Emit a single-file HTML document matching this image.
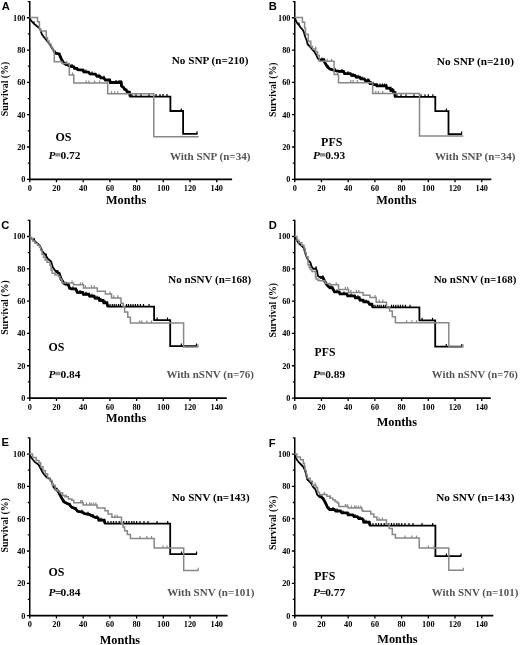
<!DOCTYPE html>
<html><head><meta charset="utf-8"><style>
html,body{margin:0;padding:0;background:#fff;width:520px;height:645px;overflow:hidden}
svg{display:block;will-change:transform}
</style></head><body>
<svg width="520" height="645" viewBox="0 0 520 645" font-family='"Liberation Serif", serif'>
<g transform="translate(0,0)">
<path d="M29.75 1.10V180.15" stroke="#000" stroke-width="1.5" fill="none"/><path d="M29.0 179.3H232.1" stroke="#000" stroke-width="1.7" fill="none"/>
<path d="M26.9 179.30H29.75M27.8 163.15H29.75M26.9 146.99H29.75M27.8 130.84H29.75M26.9 114.68H29.75M27.8 98.53H29.75M26.9 82.37H29.75M27.8 66.22H29.75M26.9 50.06H29.75M27.8 33.91H29.75M26.9 17.75H29.75M27.8 1.60H29.75M29.75 179.3V182.30M56.46 179.3V182.30M83.18 179.3V182.30M109.89 179.3V182.30M136.61 179.3V182.30M163.32 179.3V182.30M190.03 179.3V182.30M216.75 179.3V182.30" stroke="#000" stroke-width="1.3" fill="none"/>
<text x="25.5" y="182.25" text-anchor="end" font-size="8.3" font-weight="bold">0</text>
<text x="25.5" y="149.94" text-anchor="end" font-size="8.3" font-weight="bold">20</text>
<text x="25.5" y="117.63" text-anchor="end" font-size="8.3" font-weight="bold">40</text>
<text x="25.5" y="85.32" text-anchor="end" font-size="8.3" font-weight="bold">60</text>
<text x="25.5" y="53.01" text-anchor="end" font-size="8.3" font-weight="bold">80</text>
<text x="25.5" y="20.70" text-anchor="end" font-size="8.3" font-weight="bold">100</text>
<text x="29.75" y="191.0" text-anchor="middle" font-size="8.3" font-weight="bold">0</text>
<text x="56.46" y="191.0" text-anchor="middle" font-size="8.3" font-weight="bold">20</text>
<text x="83.18" y="191.0" text-anchor="middle" font-size="8.3" font-weight="bold">40</text>
<text x="109.89" y="191.0" text-anchor="middle" font-size="8.3" font-weight="bold">60</text>
<text x="136.61" y="191.0" text-anchor="middle" font-size="8.3" font-weight="bold">80</text>
<text x="163.32" y="191.0" text-anchor="middle" font-size="8.3" font-weight="bold">100</text>
<text x="190.03" y="191.0" text-anchor="middle" font-size="8.3" font-weight="bold">120</text>
<text x="216.75" y="191.0" text-anchor="middle" font-size="8.3" font-weight="bold">140</text>
<text x="126.1" y="203.9" text-anchor="middle" font-size="12.3" font-weight="bold">Months</text>
<text transform="translate(7.6,89.0) rotate(-90)" text-anchor="middle" font-size="9.6" font-weight="bold" textLength="54.6" lengthAdjust="spacingAndGlyphs">Survival (%)</text>
<text x="1.7" y="10.4" font-family="Liberation Sans"  font-size="11.2" font-weight="bold">A</text>
<text x="171.8" y="64.4" font-size="11.1" textLength="76.60" lengthAdjust="spacingAndGlyphs" font-weight="bold">No SNP (n=210)</text>
<text x="169.9" y="159.6" font-size="11.0" textLength="80.50" lengthAdjust="spacingAndGlyphs" font-weight="bold" fill="#555">With SNP (n=34)</text>
<text x="55.4" y="141.3" font-size="12.2" textLength="16.00" lengthAdjust="spacingAndGlyphs" font-weight="bold">OS</text>
<text y="159.2" font-size="11.4" font-weight="bold"><tspan x="48.40" font-style="italic">P</tspan><tspan x="60.55">0.72</tspan></text>
<rect x="55.30" y="153.10" width="5.1" height="3.4" fill="#8c8c8c"/>
<path d="M29.75 17.60 L30.50 19.80 L31.50 21.00 L33.80 23.60 L36.10 25.50 L39.00 27.80 L40.10 29.00 L41.80 34.00 L43.50 36.50 L45.30 38.80 L47.50 41.50 L49.30 43.50 L51.00 46.50 L52.80 49.20 L54.50 52.50 L55.80 53.40 L59.20 54.20 L61.50 59.60 L63.80 63.10 L66.00 64.60 L68.40 65.40 L70.70 66.50 L73.80 66.90 L74.60 68.50 L76.90 68.60 L77.70 69.80 L83.10 70.20 L83.80 72.00 L88.50 72.20 L90.00 74.00 L95.40 74.20 L96.90 76.30 L100.00 76.50 L100.80 78.10 L103.80 78.10 L105.40 80.20 L109.60 80.20 L110.40 82.70 L121.20 82.70 L121.60 86.30 L123.60 87.60 L124.40 89.40 L126.20 90.00 L127.00 91.90 L129.40 92.30 L130.20 96.60 L170.40 96.60 L170.40 111.00 L183.10 111.00 L183.10 133.80 L197.50 133.80" stroke="#000" stroke-width="1.8" fill="none" stroke-linejoin="miter"/>
<path d="M34.00 23.77V21.17M55.00 52.85V50.25M60.00 56.08V53.48M66.00 64.60V62.00M72.00 66.67V64.07M86.00 72.09V69.49M92.00 74.07V71.47M99.00 76.44V73.84M104.00 78.36V75.76M116.00 82.70V80.10M119.00 82.70V80.10M121.00 82.70V80.10M132.00 96.60V94.00M136.00 96.60V94.00M141.00 96.60V94.00M149.00 96.60V94.00M156.00 96.60V94.00M160.00 96.60V94.00M163.00 96.60V94.00M167.00 96.60V94.00M181.30 111.00V108.40M197.00 133.80V131.20" stroke="#000" stroke-width="1.2" fill="none"/>
<path d="M54.50 52.30 L55.80 53.20 L59.20 54.00 L61.50 59.40 L63.80 62.90 L66.00 64.40 L68.40 65.20 L70.70 66.30 L73.80 66.70 L74.60 68.30 L76.90 68.40 L77.70 69.60 L83.10 70.00 L83.80 71.80 L88.50 72.00 L90.00 73.80 L95.40 74.00 L96.90 76.10 L100.00 76.30 L100.80 77.90 L103.80 77.90 L105.40 80.00 L109.60 80.00 L110.40 82.50 L121.20 82.50 L121.60 86.10 L123.60 87.40 L124.40 89.20 L126.20 89.80 L127.00 91.70 L129.40 92.10 L130.20 96.40" stroke="#000" stroke-width="2.8" fill="none"/>
<path d="M29.40 17.50 L37.50 17.50 L37.50 21.80 L39.40 21.80 L39.40 28.80 L40.60 28.80 L40.60 30.90 L46.20 30.90 L46.20 37.80 L47.50 37.80 L47.50 41.00 L49.00 41.00 L49.00 44.00 L51.00 44.00 L51.00 47.00 L52.50 47.00 L52.50 50.50 L54.30 50.50 L54.30 61.80 L62.00 61.80 L62.00 63.60 L69.30 63.60 L69.30 75.10 L73.80 75.10 L73.80 83.10 L107.70 83.10 L107.70 93.80 L153.80 93.80 L153.80 136.70 L198.70 136.70" stroke="#888" stroke-width="1.5" fill="none" stroke-linejoin="miter"/>
<path d="M66.70 63.60V61.00M72.50 75.10V72.50M86.20 83.10V80.50M88.80 83.10V80.50M94.60 83.10V80.50M99.60 83.10V80.50M111.50 93.80V91.20M114.60 93.80V91.20M117.70 93.80V91.20" stroke="#888" stroke-width="1.2" fill="none"/>
</g>
<g transform="translate(265,0)">
<path d="M29.75 1.10V180.15" stroke="#000" stroke-width="1.5" fill="none"/><path d="M29.0 179.3H226.3" stroke="#000" stroke-width="1.7" fill="none"/>
<path d="M26.9 179.30H29.75M27.8 163.15H29.75M26.9 146.99H29.75M27.8 130.84H29.75M26.9 114.68H29.75M27.8 98.53H29.75M26.9 82.37H29.75M27.8 66.22H29.75M26.9 50.06H29.75M27.8 33.91H29.75M26.9 17.75H29.75M27.8 1.60H29.75M29.75 179.3V182.30M56.46 179.3V182.30M83.18 179.3V182.30M109.89 179.3V182.30M136.61 179.3V182.30M163.32 179.3V182.30M190.03 179.3V182.30M216.75 179.3V182.30" stroke="#000" stroke-width="1.3" fill="none"/>
<text x="25.5" y="182.25" text-anchor="end" font-size="8.3" font-weight="bold">0</text>
<text x="25.5" y="149.94" text-anchor="end" font-size="8.3" font-weight="bold">20</text>
<text x="25.5" y="117.63" text-anchor="end" font-size="8.3" font-weight="bold">40</text>
<text x="25.5" y="85.32" text-anchor="end" font-size="8.3" font-weight="bold">60</text>
<text x="25.5" y="53.01" text-anchor="end" font-size="8.3" font-weight="bold">80</text>
<text x="25.5" y="20.70" text-anchor="end" font-size="8.3" font-weight="bold">100</text>
<text x="29.75" y="191.0" text-anchor="middle" font-size="8.3" font-weight="bold">0</text>
<text x="56.46" y="191.0" text-anchor="middle" font-size="8.3" font-weight="bold">20</text>
<text x="83.18" y="191.0" text-anchor="middle" font-size="8.3" font-weight="bold">40</text>
<text x="109.89" y="191.0" text-anchor="middle" font-size="8.3" font-weight="bold">60</text>
<text x="136.61" y="191.0" text-anchor="middle" font-size="8.3" font-weight="bold">80</text>
<text x="163.32" y="191.0" text-anchor="middle" font-size="8.3" font-weight="bold">100</text>
<text x="190.03" y="191.0" text-anchor="middle" font-size="8.3" font-weight="bold">120</text>
<text x="216.75" y="191.0" text-anchor="middle" font-size="8.3" font-weight="bold">140</text>
<text x="131.4" y="203.8" text-anchor="middle" font-size="12.3" font-weight="bold">Months</text>
<text transform="translate(10.8,89.7) rotate(-90)" text-anchor="middle" font-size="9.6" font-weight="bold" textLength="54.6" lengthAdjust="spacingAndGlyphs">Survival (%)</text>
<text x="3.8" y="10.4" font-family="Liberation Sans"  font-size="11.2" font-weight="bold">B</text>
<text x="171.8" y="64.5" font-size="11.1" textLength="77.20" lengthAdjust="spacingAndGlyphs" font-weight="bold">No SNP (n=210)</text>
<text x="169.9" y="159.6" font-size="11.0" textLength="80.50" lengthAdjust="spacingAndGlyphs" font-weight="bold" fill="#555">With SNP (n=34)</text>
<text x="56.099999999999994" y="145.6" font-size="12.2" textLength="21.20" lengthAdjust="spacingAndGlyphs" font-weight="bold">PFS</text>
<text y="159.2" font-size="11.4" font-weight="bold"><tspan x="48.00" font-style="italic">P</tspan><tspan x="60.15">0.93</tspan></text>
<rect x="54.90" y="153.10" width="5.1" height="3.4" fill="#8c8c8c"/>
<path d="M29.75 17.60 L31.20 21.40 L32.60 23.70 L34.00 25.10 L35.80 27.80 L37.30 29.20 L38.70 31.50 L39.60 34.80 L40.50 37.50 L41.90 40.80 L42.60 44.20 L44.90 46.50 L47.20 49.50 L49.50 51.80 L51.40 55.20 L52.80 58.50 L54.60 60.00 L58.80 60.00 L59.70 62.60 L62.60 67.20 L65.00 69.20 L68.10 70.20 L71.20 71.00 L75.00 71.60 L78.50 71.60 L79.60 73.80 L85.40 73.80 L86.50 75.60 L90.00 75.60 L91.20 77.30 L94.60 77.30 L95.80 79.00 L99.20 79.00 L100.40 80.80 L103.80 80.80 L105.00 83.70 L107.30 83.70 L108.50 84.80 L111.40 84.80 L111.90 86.00 L121.20 86.00 L121.70 88.30 L125.30 88.30 L125.80 90.60 L128.10 90.60 L128.70 92.90 L130.00 92.90 L130.00 96.90 L170.30 96.90 L170.30 111.20 L183.50 111.20 L183.50 134.10 L197.00 134.10" stroke="#000" stroke-width="1.8" fill="none" stroke-linejoin="miter"/>
<path d="M34.00 25.10V22.50M57.00 60.00V57.40M59.00 60.58V57.98M63.00 67.53V64.93M70.00 70.69V68.09M77.00 71.60V69.00M83.00 73.80V71.20M88.00 75.60V73.00M93.00 77.30V74.70M97.00 79.00V76.40M103.00 80.80V78.20M106.00 83.70V81.10M108.00 84.34V81.74M112.00 86.00V83.40M115.00 86.00V83.40M117.50 86.00V83.40M119.50 86.00V83.40M121.30 86.46V83.86M127.70 90.60V88.00M132.00 96.90V94.30M136.00 96.90V94.30M141.00 96.90V94.30M149.00 96.90V94.30M156.00 96.90V94.30M160.00 96.90V94.30M163.30 96.90V94.30M167.90 96.90V94.30M181.40 111.20V108.60M196.60 134.10V131.50" stroke="#000" stroke-width="1.2" fill="none"/>
<path d="M54.60 59.80 L58.80 59.80 L59.70 62.40 L62.60 67.00 L65.00 69.00 L68.10 70.00 L71.20 70.80 L75.00 71.40 L78.50 71.40 L79.60 73.60 L85.40 73.60 L86.50 75.40 L90.00 75.40 L91.20 77.10 L94.60 77.10 L95.80 78.80 L99.20 78.80 L100.40 80.60 L103.80 80.60 L105.00 83.50 L107.30 83.50 L108.50 84.60 L111.40 84.60 L111.90 85.80 L121.20 85.80 L121.70 88.10 L125.30 88.10 L125.80 90.40 L128.10 90.40 L128.70 92.70 L130.00 92.70 L130.00 96.70" stroke="#000" stroke-width="2.8" fill="none"/>
<path d="M29.40 17.50 L37.40 17.50 L37.40 22.30 L39.60 22.30 L39.60 28.00 L40.50 28.00 L40.50 34.30 L43.30 34.30 L43.30 41.20 L45.80 41.20 L45.80 46.50 L47.50 46.50 L47.50 49.00 L50.70 49.00 L50.70 51.80 L52.50 51.80 L52.50 55.50 L54.30 55.50 L54.30 61.30 L69.10 61.30 L69.10 74.60 L73.50 74.60 L73.50 82.70 L107.70 82.70 L107.70 93.40 L154.50 93.40 L154.50 135.90 L198.30 135.90" stroke="#888" stroke-width="1.5" fill="none" stroke-linejoin="miter"/>
<path d="M50.70 49.00V46.40M62.20 61.30V58.70M66.50 61.30V58.70M72.50 74.60V72.00M85.80 82.70V80.10M88.10 82.70V80.10M92.30 82.70V80.10M110.80 93.40V90.80M113.50 93.40V90.80M117.70 93.40V90.80" stroke="#888" stroke-width="1.2" fill="none"/>
</g>
<g transform="translate(0,218.75)">
<path d="M29.75 1.10V180.15" stroke="#000" stroke-width="1.5" fill="none"/><path d="M29.0 179.3H226.8" stroke="#000" stroke-width="1.7" fill="none"/>
<path d="M26.9 179.30H29.75M27.8 163.15H29.75M26.9 146.99H29.75M27.8 130.84H29.75M26.9 114.68H29.75M27.8 98.53H29.75M26.9 82.37H29.75M27.8 66.22H29.75M26.9 50.06H29.75M27.8 33.91H29.75M26.9 17.75H29.75M27.8 1.60H29.75M29.75 179.3V182.30M56.46 179.3V182.30M83.18 179.3V182.30M109.89 179.3V182.30M136.61 179.3V182.30M163.32 179.3V182.30M190.03 179.3V182.30M216.75 179.3V182.30" stroke="#000" stroke-width="1.3" fill="none"/>
<text x="25.5" y="182.25" text-anchor="end" font-size="8.3" font-weight="bold">0</text>
<text x="25.5" y="149.94" text-anchor="end" font-size="8.3" font-weight="bold">20</text>
<text x="25.5" y="117.63" text-anchor="end" font-size="8.3" font-weight="bold">40</text>
<text x="25.5" y="85.32" text-anchor="end" font-size="8.3" font-weight="bold">60</text>
<text x="25.5" y="53.01" text-anchor="end" font-size="8.3" font-weight="bold">80</text>
<text x="25.5" y="20.70" text-anchor="end" font-size="8.3" font-weight="bold">100</text>
<text x="29.75" y="191.0" text-anchor="middle" font-size="8.3" font-weight="bold">0</text>
<text x="56.46" y="191.0" text-anchor="middle" font-size="8.3" font-weight="bold">20</text>
<text x="83.18" y="191.0" text-anchor="middle" font-size="8.3" font-weight="bold">40</text>
<text x="109.89" y="191.0" text-anchor="middle" font-size="8.3" font-weight="bold">60</text>
<text x="136.61" y="191.0" text-anchor="middle" font-size="8.3" font-weight="bold">80</text>
<text x="163.32" y="191.0" text-anchor="middle" font-size="8.3" font-weight="bold">100</text>
<text x="190.03" y="191.0" text-anchor="middle" font-size="8.3" font-weight="bold">120</text>
<text x="216.75" y="191.0" text-anchor="middle" font-size="8.3" font-weight="bold">140</text>
<text x="126.1" y="203.6" text-anchor="middle" font-size="12.3" font-weight="bold">Months</text>
<text transform="translate(7.6,88.8) rotate(-90)" text-anchor="middle" font-size="9.6" font-weight="bold" textLength="54.6" lengthAdjust="spacingAndGlyphs">Survival (%)</text>
<text x="1.2" y="10.0" font-family="Liberation Sans"  font-size="11.2" font-weight="bold">C</text>
<text x="168.20000000000002" y="63.9" font-size="11.1" textLength="83.10" lengthAdjust="spacingAndGlyphs" font-weight="bold">No nSNV (n=168)</text>
<text x="166.4" y="159.3" font-size="11.0" textLength="87.60" lengthAdjust="spacingAndGlyphs" font-weight="bold" fill="#555">With nSNV (n=76)</text>
<text x="48.5" y="132.6" font-size="12.2" textLength="15.90" lengthAdjust="spacingAndGlyphs" font-weight="bold">OS</text>
<text y="159.2" font-size="11.4" font-weight="bold"><tspan x="48.40" font-style="italic">P</tspan><tspan x="60.55">0.84</tspan></text>
<rect x="55.30" y="153.10" width="5.1" height="3.4" fill="#8c8c8c"/>
<path d="M29.75 18.00 L31.50 19.60 L33.80 21.40 L36.50 23.80 L39.50 26.60 L41.20 30.00 L43.00 33.50 L45.30 35.80 L47.60 39.80 L51.10 42.70 L52.80 48.50 L55.70 52.50 L59.20 54.80 L60.90 60.00 L63.80 64.60 L65.50 65.60 L68.10 65.60 L69.60 69.60 L71.20 70.30 L75.80 70.30 L77.30 73.80 L82.70 73.80 L83.50 75.70 L88.80 75.70 L89.60 77.60 L94.20 77.60 L95.00 79.60 L98.80 79.60 L99.60 81.80 L103.10 81.90 L103.80 84.20 L106.90 84.20 L107.70 87.80 L154.10 87.80 L154.10 101.30 L170.20 101.30 L170.20 127.40 L196.80 127.40" stroke="#000" stroke-width="1.8" fill="none" stroke-linejoin="miter"/>
<path d="M34.30 21.84V19.24M46.20 37.37V34.77M57.70 53.81V51.21M66.00 65.60V63.00M73.00 70.30V67.70M80.00 73.80V71.20M86.00 75.70V73.10M92.00 77.60V75.00M97.00 79.60V77.00M101.00 81.84V79.24M105.00 84.20V81.60M110.00 87.80V85.20M112.30 87.80V85.20M114.20 87.80V85.20M116.20 87.80V85.20M118.50 87.80V85.20M120.40 87.80V85.20M126.50 87.80V85.20M128.50 87.80V85.20M130.80 87.80V85.20M133.10 87.80V85.20M135.40 87.80V85.20M137.70 87.80V85.20M140.40 87.80V85.20M143.50 87.80V85.20M149.00 87.80V85.20M157.10 101.30V98.70M167.50 101.30V98.70M181.30 127.40V124.80M196.50 127.40V124.80" stroke="#000" stroke-width="1.2" fill="none"/>
<path d="M55.70 52.30 L59.20 54.60 L60.90 59.80 L63.80 64.40 L65.50 65.40 L68.10 65.40 L69.60 69.40 L71.20 70.10 L75.80 70.10 L77.30 73.60 L82.70 73.60 L83.50 75.50 L88.80 75.50 L89.60 77.40 L94.20 77.40 L95.00 79.40 L98.80 79.40 L99.60 81.60 L103.10 81.70 L103.80 84.00 L106.90 84.00 L107.70 87.60" stroke="#000" stroke-width="2.8" fill="none"/>
<path d="M29.40 17.90 L30.50 17.90 L30.50 19.30 L32.60 19.30 L32.60 22.30 L34.90 22.30 L34.90 24.60 L37.50 24.60 L37.50 26.50 L39.50 26.50 L39.50 28.20 L40.70 28.20 L40.70 31.50 L42.00 31.50 L42.00 35.50 L43.50 35.50 L43.50 38.50 L45.30 38.50 L45.30 41.20 L47.00 41.20 L47.00 43.60 L49.90 43.60 L49.90 46.50 L51.00 46.50 L51.00 51.50 L52.20 51.50 L52.20 54.40 L55.00 54.40 L55.00 56.30 L58.60 56.30 L58.60 57.80 L60.00 57.80 L60.00 60.20 L61.80 60.20 L61.80 62.50 L62.30 62.50 L62.30 64.30 L73.50 64.30 L73.50 66.10 L83.50 66.10 L83.50 69.20 L97.30 69.20 L97.30 72.50 L105.40 72.50 L105.40 75.30 L111.50 75.30 L111.50 79.20 L121.00 79.20 L121.00 84.60 L123.20 84.60 L123.20 88.00 L124.60 88.00 L124.60 93.20 L127.80 93.20 L127.80 98.40 L130.40 98.40 L130.40 104.30 L183.60 104.30 L183.60 128.20 L198.30 128.20" stroke="#888" stroke-width="1.5" fill="none" stroke-linejoin="miter"/>
<path d="M72.00 64.30V61.70M80.40 66.10V63.50M82.70 66.10V63.50M85.40 69.20V66.60M91.50 69.20V66.60M94.20 69.20V66.60M110.00 75.30V72.70M113.80 79.20V76.60M117.70 79.20V76.60M139.60 104.30V101.70M141.70 104.30V101.70M146.90 104.30V101.70M151.50 104.30V101.70M198.00 128.20V125.60" stroke="#888" stroke-width="1.2" fill="none"/>
</g>
<g transform="translate(265,218.75)">
<path d="M29.75 1.10V180.15" stroke="#000" stroke-width="1.5" fill="none"/><path d="M29.0 179.3H225.8" stroke="#000" stroke-width="1.7" fill="none"/>
<path d="M26.9 179.30H29.75M27.8 163.15H29.75M26.9 146.99H29.75M27.8 130.84H29.75M26.9 114.68H29.75M27.8 98.53H29.75M26.9 82.37H29.75M27.8 66.22H29.75M26.9 50.06H29.75M27.8 33.91H29.75M26.9 17.75H29.75M27.8 1.60H29.75M29.75 179.3V182.30M56.46 179.3V182.30M83.18 179.3V182.30M109.89 179.3V182.30M136.61 179.3V182.30M163.32 179.3V182.30M190.03 179.3V182.30M216.75 179.3V182.30" stroke="#000" stroke-width="1.3" fill="none"/>
<text x="25.5" y="182.25" text-anchor="end" font-size="8.3" font-weight="bold">0</text>
<text x="25.5" y="149.94" text-anchor="end" font-size="8.3" font-weight="bold">20</text>
<text x="25.5" y="117.63" text-anchor="end" font-size="8.3" font-weight="bold">40</text>
<text x="25.5" y="85.32" text-anchor="end" font-size="8.3" font-weight="bold">60</text>
<text x="25.5" y="53.01" text-anchor="end" font-size="8.3" font-weight="bold">80</text>
<text x="25.5" y="20.70" text-anchor="end" font-size="8.3" font-weight="bold">100</text>
<text x="29.75" y="191.0" text-anchor="middle" font-size="8.3" font-weight="bold">0</text>
<text x="56.46" y="191.0" text-anchor="middle" font-size="8.3" font-weight="bold">20</text>
<text x="83.18" y="191.0" text-anchor="middle" font-size="8.3" font-weight="bold">40</text>
<text x="109.89" y="191.0" text-anchor="middle" font-size="8.3" font-weight="bold">60</text>
<text x="136.61" y="191.0" text-anchor="middle" font-size="8.3" font-weight="bold">80</text>
<text x="163.32" y="191.0" text-anchor="middle" font-size="8.3" font-weight="bold">100</text>
<text x="190.03" y="191.0" text-anchor="middle" font-size="8.3" font-weight="bold">120</text>
<text x="216.75" y="191.0" text-anchor="middle" font-size="8.3" font-weight="bold">140</text>
<text x="131.8" y="207.4" text-anchor="middle" font-size="12.3" font-weight="bold">Months</text>
<text transform="translate(11.0,91.4) rotate(-90)" text-anchor="middle" font-size="9.6" font-weight="bold" textLength="54.6" lengthAdjust="spacingAndGlyphs">Survival (%)</text>
<text x="3.8" y="9.8" font-family="Liberation Sans"  font-size="11.2" font-weight="bold">D</text>
<text x="168.70000000000002" y="63.8" font-size="11.1" textLength="82.70" lengthAdjust="spacingAndGlyphs" font-weight="bold">No nSNV (n=168)</text>
<text x="166.8" y="159.4" font-size="11.0" textLength="86.10" lengthAdjust="spacingAndGlyphs" font-weight="bold" fill="#555">With nSNV (n=76)</text>
<text x="49.599999999999994" y="137.3" font-size="12.2" textLength="20.80" lengthAdjust="spacingAndGlyphs" font-weight="bold">PFS</text>
<text y="159.2" font-size="11.4" font-weight="bold"><tspan x="48.00" font-style="italic">P</tspan><tspan x="60.15">0.89</tspan></text>
<rect x="54.90" y="153.10" width="5.1" height="3.4" fill="#8c8c8c"/>
<path d="M29.75 18.00 L32.00 21.80 L33.80 24.60 L36.70 27.00 L39.00 29.80 L40.10 33.90 L41.30 37.30 L43.00 41.30 L45.30 43.60 L46.50 47.60 L48.20 50.00 L51.10 50.00 L52.20 52.80 L52.80 56.90 L55.10 58.60 L58.00 59.20 L59.20 61.50 L60.90 65.00 L63.00 67.50 L65.00 69.20 L67.30 69.20 L68.80 71.90 L69.60 73.40 L74.20 73.40 L75.00 75.30 L81.90 75.30 L82.70 77.30 L89.60 77.30 L90.40 79.20 L94.20 79.20 L95.00 81.50 L98.10 81.50 L98.80 83.40 L103.10 83.40 L104.60 85.70 L106.90 85.70 L107.70 88.60 L154.40 88.60 L154.40 101.70 L170.20 101.70 L170.20 127.90 L197.10 127.90" stroke="#000" stroke-width="1.8" fill="none" stroke-linejoin="miter"/>
<path d="M34.00 24.77V22.17M51.10 50.00V47.40M58.00 59.20V56.60M66.00 69.20V66.60M72.00 73.40V70.80M79.00 75.30V72.70M86.00 77.30V74.70M93.00 79.20V76.60M101.00 83.40V80.80M110.00 88.60V86.00M112.30 88.60V86.00M114.20 88.60V86.00M116.20 88.60V86.00M118.50 88.60V86.00M120.40 88.60V86.00M126.50 88.60V86.00M128.50 88.60V86.00M130.80 88.60V86.00M133.10 88.60V86.00M135.40 88.60V86.00M137.70 88.60V86.00M140.40 88.60V86.00M145.00 88.60V86.00M157.10 101.70V99.10M167.50 101.70V99.10M181.30 127.90V125.30M196.80 127.90V125.30" stroke="#000" stroke-width="1.2" fill="none"/>
<path d="M55.10 58.40 L58.00 59.00 L59.20 61.30 L60.90 64.80 L63.00 67.30 L65.00 69.00 L67.30 69.00 L68.80 71.70 L69.60 73.20 L74.20 73.20 L75.00 75.10 L81.90 75.10 L82.70 77.10 L89.60 77.10 L90.40 79.00 L94.20 79.00 L95.00 81.30 L98.10 81.30 L98.80 83.20 L103.10 83.20 L104.60 85.50 L106.90 85.50 L107.70 88.40" stroke="#000" stroke-width="2.8" fill="none"/>
<path d="M29.40 17.70 L32.00 17.70 L32.00 21.50 L33.80 21.50 L33.80 24.00 L36.70 24.00 L36.70 26.50 L39.00 26.50 L39.00 29.50 L40.10 29.50 L40.10 34.00 L41.30 34.00 L41.30 38.00 L43.00 38.00 L43.00 45.90 L44.20 45.90 L44.20 48.80 L45.30 48.80 L45.30 50.80 L47.00 50.80 L47.00 52.80 L50.50 52.80 L50.50 58.00 L51.10 58.00 L51.10 60.30 L52.80 60.30 L52.80 61.50 L54.50 61.50 L54.50 62.00 L60.00 62.00 L60.00 64.70 L65.00 64.70 L65.00 66.10 L73.50 66.10 L73.50 70.70 L83.50 70.70 L83.50 73.80 L98.10 73.80 L98.10 76.50 L105.00 76.50 L105.00 78.80 L111.20 78.80 L111.20 83.40 L121.50 83.40 L121.50 88.00 L124.60 88.00 L124.60 92.30 L127.30 92.30 L127.30 98.00 L130.40 98.00 L130.40 104.00 L183.80 104.00 L183.80 128.20 L198.30 128.20" stroke="#888" stroke-width="1.5" fill="none" stroke-linejoin="miter"/>
<path d="M71.20 66.10V63.50M80.40 70.70V68.10M82.70 70.70V68.10M85.80 73.80V71.20M91.50 73.80V71.20M93.80 73.80V71.20M110.00 78.80V76.20M114.20 83.40V80.80M117.70 83.40V80.80M141.70 104.00V101.40M146.90 104.00V101.40M151.50 104.00V101.40M198.00 128.20V125.60" stroke="#888" stroke-width="1.2" fill="none"/>
</g>
<g transform="translate(0,436.3)">
<path d="M29.75 1.10V180.15" stroke="#000" stroke-width="1.5" fill="none"/><path d="M29.0 179.3H227.6" stroke="#000" stroke-width="1.7" fill="none"/>
<path d="M26.9 179.30H29.75M27.8 163.15H29.75M26.9 146.99H29.75M27.8 130.84H29.75M26.9 114.68H29.75M27.8 98.53H29.75M26.9 82.37H29.75M27.8 66.22H29.75M26.9 50.06H29.75M27.8 33.91H29.75M26.9 17.75H29.75M27.8 1.60H29.75M29.75 179.3V182.30M56.46 179.3V182.30M83.18 179.3V182.30M109.89 179.3V182.30M136.61 179.3V182.30M163.32 179.3V182.30M190.03 179.3V182.30M216.75 179.3V182.30" stroke="#000" stroke-width="1.3" fill="none"/>
<text x="25.5" y="182.25" text-anchor="end" font-size="8.3" font-weight="bold">0</text>
<text x="25.5" y="149.94" text-anchor="end" font-size="8.3" font-weight="bold">20</text>
<text x="25.5" y="117.63" text-anchor="end" font-size="8.3" font-weight="bold">40</text>
<text x="25.5" y="85.32" text-anchor="end" font-size="8.3" font-weight="bold">60</text>
<text x="25.5" y="53.01" text-anchor="end" font-size="8.3" font-weight="bold">80</text>
<text x="25.5" y="20.70" text-anchor="end" font-size="8.3" font-weight="bold">100</text>
<text x="29.75" y="191.0" text-anchor="middle" font-size="8.3" font-weight="bold">0</text>
<text x="56.46" y="191.0" text-anchor="middle" font-size="8.3" font-weight="bold">20</text>
<text x="83.18" y="191.0" text-anchor="middle" font-size="8.3" font-weight="bold">40</text>
<text x="109.89" y="191.0" text-anchor="middle" font-size="8.3" font-weight="bold">60</text>
<text x="136.61" y="191.0" text-anchor="middle" font-size="8.3" font-weight="bold">80</text>
<text x="163.32" y="191.0" text-anchor="middle" font-size="8.3" font-weight="bold">100</text>
<text x="190.03" y="191.0" text-anchor="middle" font-size="8.3" font-weight="bold">120</text>
<text x="216.75" y="191.0" text-anchor="middle" font-size="8.3" font-weight="bold">140</text>
<text x="119.9" y="208.0" text-anchor="middle" font-size="12.3" font-weight="bold">Months</text>
<text transform="translate(8.0,89.0) rotate(-90)" text-anchor="middle" font-size="9.6" font-weight="bold" textLength="54.6" lengthAdjust="spacingAndGlyphs">Survival (%)</text>
<text x="1.4" y="10.2" font-family="Liberation Sans"  font-size="11.2" font-weight="bold">E</text>
<text x="171.8" y="64.5" font-size="11.1" textLength="77.80" lengthAdjust="spacingAndGlyphs" font-weight="bold">No SNV (n=143)</text>
<text x="167.20000000000002" y="159.5" font-size="11.0" textLength="87.20" lengthAdjust="spacingAndGlyphs" font-weight="bold" fill="#555">With SNV (n=101)</text>
<text x="48.5" y="139.3" font-size="12.2" textLength="15.90" lengthAdjust="spacingAndGlyphs" font-weight="bold">OS</text>
<text y="159.3" font-size="11.4" font-weight="bold"><tspan x="48.40" font-style="italic">P</tspan><tspan x="55.05">=</tspan><tspan x="60.55">0.84</tspan></text>
<path d="M29.75 18.60 L31.00 20.80 L32.60 23.00 L34.90 25.90 L38.40 28.20 L40.70 32.20 L43.00 36.80 L46.50 40.90 L49.90 42.60 L52.20 46.60 L53.40 50.10 L55.70 53.00 L58.00 54.70 L59.70 58.20 L61.50 61.60 L63.80 65.70 L67.20 67.40 L69.50 68.50 L71.50 71.00 L75.40 72.50 L77.70 75.20 L82.30 76.00 L84.60 77.50 L89.20 78.30 L92.30 79.90 L95.40 81.40 L98.10 81.80 L98.80 84.10 L104.20 84.10 L105.00 87.40 L170.20 87.40 L170.20 117.90 L196.90 117.90" stroke="#000" stroke-width="1.8" fill="none" stroke-linejoin="miter"/>
<path d="M42.40 35.60V33.00M57.00 53.96V51.36M64.00 65.80V63.20M70.00 69.12V66.53M76.00 73.20V70.60M82.00 75.95V73.35M88.00 78.09V75.49M93.00 80.24V77.64M97.00 81.64V79.04M101.00 84.10V81.50M108.00 87.40V84.80M111.00 87.40V84.80M113.50 87.40V84.80M116.20 87.40V84.80M119.20 87.40V84.80M121.30 87.40V84.80M123.70 87.40V84.80M126.50 87.40V84.80M129.00 87.40V84.80M131.80 87.40V84.80M134.00 87.40V84.80M136.70 87.40V84.80M140.00 87.40V84.80M144.00 87.40V84.80M148.00 87.40V84.80M157.00 87.40V84.80M167.70 87.40V84.80M181.50 117.90V115.30M196.60 117.90V115.30" stroke="#000" stroke-width="1.2" fill="none"/>
<path d="M53.40 49.90 L55.70 52.80 L58.00 54.50 L59.70 58.00 L61.50 61.40 L63.80 65.50 L67.20 67.20 L69.50 68.30 L71.50 70.80 L75.40 72.30 L77.70 75.00 L82.30 75.80 L84.60 77.30 L89.20 78.10 L92.30 79.70 L95.40 81.20 L98.10 81.60 L98.80 83.90 L104.20 83.90 L105.00 87.20" stroke="#000" stroke-width="2.8" fill="none"/>
<path d="M29.40 17.80 L30.80 17.80 L30.80 17.80 L32.60 17.80 L32.60 21.20 L36.10 21.20 L36.10 24.10 L39.00 24.10 L39.00 26.40 L40.70 26.40 L40.70 30.50 L43.00 30.50 L43.00 34.50 L45.30 34.50 L45.30 37.40 L47.60 37.40 L47.60 41.40 L49.90 41.40 L49.90 44.30 L52.20 44.30 L52.20 48.90 L55.10 48.90 L55.10 53.50 L57.40 53.50 L57.40 54.70 L59.70 54.70 L59.70 56.40 L62.60 56.40 L62.60 59.30 L64.90 59.30 L64.90 60.50 L68.40 60.50 L68.40 62.80 L71.80 62.80 L71.80 63.90 L73.80 63.90 L73.80 66.40 L83.10 66.40 L83.10 68.70 L96.90 68.70 L96.90 70.30 L97.30 70.30 L97.30 71.60 L105.00 71.60 L105.00 74.50 L108.10 74.50 L108.10 77.60 L111.90 77.60 L111.90 81.00 L121.50 81.00 L121.50 87.50 L123.00 87.50 L123.00 90.60 L124.60 90.60 L124.60 94.50 L127.30 94.50 L127.30 98.30 L130.40 98.30 L130.40 102.20 L154.20 102.20 L154.20 111.80 L183.70 111.80 L183.70 134.10 L198.50 134.10" stroke="#888" stroke-width="1.5" fill="none" stroke-linejoin="miter"/>
<path d="M66.20 60.50V57.90M80.80 66.40V63.80M82.30 66.40V63.80M86.50 68.70V66.10M89.60 68.70V66.10M91.20 68.70V66.10M93.50 68.70V66.10M95.80 68.70V66.10M115.00 81.00V78.40M117.30 81.00V78.40M140.10 102.20V99.60M146.80 102.20V99.60M151.50 102.20V99.60M163.00 111.80V109.20M167.10 111.80V109.20M198.30 134.10V131.50" stroke="#888" stroke-width="1.2" fill="none"/>
</g>
<g transform="translate(265,436.3)">
<path d="M29.75 1.10V180.15" stroke="#000" stroke-width="1.5" fill="none"/><path d="M29.0 179.3H228.3" stroke="#000" stroke-width="1.7" fill="none"/>
<path d="M26.9 179.30H29.75M27.8 163.15H29.75M26.9 146.99H29.75M27.8 130.84H29.75M26.9 114.68H29.75M27.8 98.53H29.75M26.9 82.37H29.75M27.8 66.22H29.75M26.9 50.06H29.75M27.8 33.91H29.75M26.9 17.75H29.75M27.8 1.60H29.75M29.75 179.3V182.30M56.46 179.3V182.30M83.18 179.3V182.30M109.89 179.3V182.30M136.61 179.3V182.30M163.32 179.3V182.30M190.03 179.3V182.30M216.75 179.3V182.30" stroke="#000" stroke-width="1.3" fill="none"/>
<text x="25.5" y="182.25" text-anchor="end" font-size="8.3" font-weight="bold">0</text>
<text x="25.5" y="149.94" text-anchor="end" font-size="8.3" font-weight="bold">20</text>
<text x="25.5" y="117.63" text-anchor="end" font-size="8.3" font-weight="bold">40</text>
<text x="25.5" y="85.32" text-anchor="end" font-size="8.3" font-weight="bold">60</text>
<text x="25.5" y="53.01" text-anchor="end" font-size="8.3" font-weight="bold">80</text>
<text x="25.5" y="20.70" text-anchor="end" font-size="8.3" font-weight="bold">100</text>
<text x="29.75" y="191.0" text-anchor="middle" font-size="8.3" font-weight="bold">0</text>
<text x="56.46" y="191.0" text-anchor="middle" font-size="8.3" font-weight="bold">20</text>
<text x="83.18" y="191.0" text-anchor="middle" font-size="8.3" font-weight="bold">40</text>
<text x="109.89" y="191.0" text-anchor="middle" font-size="8.3" font-weight="bold">60</text>
<text x="136.61" y="191.0" text-anchor="middle" font-size="8.3" font-weight="bold">80</text>
<text x="163.32" y="191.0" text-anchor="middle" font-size="8.3" font-weight="bold">100</text>
<text x="190.03" y="191.0" text-anchor="middle" font-size="8.3" font-weight="bold">120</text>
<text x="216.75" y="191.0" text-anchor="middle" font-size="8.3" font-weight="bold">140</text>
<text x="132.5" y="206.4" text-anchor="middle" font-size="12.3" font-weight="bold">Months</text>
<text transform="translate(11.0,86.5) rotate(-90)" text-anchor="middle" font-size="9.6" font-weight="bold" textLength="54.6" lengthAdjust="spacingAndGlyphs">Survival (%)</text>
<text x="3.8" y="10.4" font-family="Liberation Sans"  font-size="11.2" font-weight="bold">F</text>
<text x="171.20000000000002" y="64.5" font-size="11.1" textLength="78.20" lengthAdjust="spacingAndGlyphs" font-weight="bold">No SNV (n=143)</text>
<text x="166.8" y="159.5" font-size="11.0" textLength="86.50" lengthAdjust="spacingAndGlyphs" font-weight="bold" fill="#555">With SNV (n=101)</text>
<text x="49.199999999999996" y="144.2" font-size="12.2" textLength="21.20" lengthAdjust="spacingAndGlyphs" font-weight="bold">PFS</text>
<text y="159.3" font-size="11.4" font-weight="bold"><tspan x="48.00" font-style="italic">P</tspan><tspan x="54.65">=</tspan><tspan x="60.15">0.77</tspan></text>
<path d="M29.75 18.80 L31.90 23.50 L34.20 26.40 L36.50 28.70 L38.30 30.50 L39.40 32.80 L40.60 36.20 L42.30 43.20 L45.80 46.60 L48.10 50.70 L50.40 53.00 L52.10 58.20 L53.80 59.90 L56.20 61.00 L57.90 62.20 L59.60 65.10 L61.30 68.50 L62.30 71.00 L64.60 73.40 L69.20 73.40 L70.80 74.90 L75.40 74.90 L76.90 76.80 L82.30 76.80 L83.10 78.70 L87.70 78.70 L89.20 80.60 L92.30 80.60 L93.80 82.50 L96.90 82.50 L98.10 83.50 L98.80 86.00 L104.20 86.00 L105.00 89.30 L170.40 89.30 L170.40 119.90 L196.20 119.90" stroke="#000" stroke-width="1.8" fill="none" stroke-linejoin="miter"/>
<path d="M57.00 61.56V58.96M64.00 72.77V70.17M68.00 73.40V70.80M72.00 74.90V72.30M78.00 76.80V74.20M84.00 78.70V76.10M90.00 80.60V78.00M95.00 82.50V79.90M101.00 86.00V83.40M108.00 89.30V86.70M111.00 89.30V86.70M113.50 89.30V86.70M116.20 89.30V86.70M119.20 89.30V86.70M121.30 89.30V86.70M123.70 89.30V86.70M126.50 89.30V86.70M129.00 89.30V86.70M131.80 89.30V86.70M134.00 89.30V86.70M136.70 89.30V86.70M140.00 89.30V86.70M144.00 89.30V86.70M148.00 89.30V86.70M157.00 89.30V86.70M167.70 89.30V86.70M181.40 119.90V117.30M196.00 119.90V117.30" stroke="#000" stroke-width="1.2" fill="none"/>
<path d="M53.80 59.70 L56.20 60.80 L57.90 62.00 L59.60 64.90 L61.30 68.30 L62.30 70.80 L64.60 73.20 L69.20 73.20 L70.80 74.70 L75.40 74.70 L76.90 76.60 L82.30 76.60 L83.10 78.50 L87.70 78.50 L89.20 80.40 L92.30 80.40 L93.80 82.30 L96.90 82.30 L98.10 83.30 L98.80 85.80 L104.20 85.80 L105.00 89.10" stroke="#000" stroke-width="2.8" fill="none"/>
<path d="M29.40 17.80 L31.00 17.80 L31.00 17.80 L31.90 17.80 L31.90 20.70 L35.40 20.70 L35.40 23.50 L38.30 23.50 L38.30 27.00 L39.40 27.00 L39.40 29.90 L40.00 29.90 L40.00 33.90 L41.20 33.90 L41.20 38.50 L42.30 38.50 L42.30 42.00 L45.20 42.00 L45.20 44.90 L47.50 44.90 L47.50 48.90 L51.00 48.90 L51.00 51.20 L52.70 51.20 L52.70 55.90 L54.40 55.90 L54.40 58.20 L59.00 58.20 L59.00 58.20 L61.90 58.20 L61.90 59.90 L64.80 59.90 L64.80 61.60 L67.70 61.60 L67.70 63.40 L70.00 63.40 L70.00 65.10 L72.30 65.10 L72.30 66.80 L73.80 66.80 L73.80 68.50 L73.80 68.50 L73.80 70.20 L83.10 70.20 L83.10 71.80 L96.90 71.80 L96.90 74.30 L98.10 74.30 L98.10 74.90 L105.80 74.90 L105.80 77.60 L108.80 77.60 L108.80 80.60 L111.90 80.60 L111.90 83.70 L121.50 83.70 L121.50 88.00 L124.20 88.00 L124.20 92.20 L127.30 92.20 L127.30 98.30 L130.40 98.30 L130.40 101.80 L154.20 101.80 L154.20 111.70 L183.80 111.70 L183.80 134.00 L198.60 134.00" stroke="#888" stroke-width="1.5" fill="none" stroke-linejoin="miter"/>
<path d="M50.00 48.90V46.30M59.30 58.20V55.60M65.40 61.60V59.00M80.40 70.20V67.60M82.30 70.20V67.60M86.50 71.80V69.20M89.60 71.80V69.20M91.20 71.80V69.20M93.50 71.80V69.20M95.80 71.80V69.20M114.20 83.70V81.10M117.30 83.70V81.10M140.10 101.80V99.20M146.80 101.80V99.20M151.50 101.80V99.20M163.40 111.70V109.10M169.00 111.70V109.10M198.30 134.00V131.40" stroke="#888" stroke-width="1.2" fill="none"/>
</g>
</svg>
</body></html>
